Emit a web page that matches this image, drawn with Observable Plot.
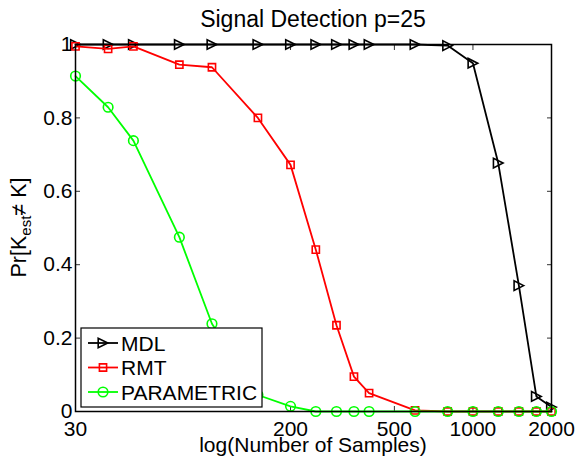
<!DOCTYPE html>
<html><head><meta charset="utf-8">
<script src="https://cdn.jsdelivr.net/npm/d3@7"></script>
<script src="https://cdn.jsdelivr.net/npm/@observablehq/plot@0.6"></script>
<style>
body{margin:0;background:#fff;}
#chart svg{font-family:"Liberation Sans",Arial,Helvetica,sans-serif;color:#000;background:#fff;}
</style>
</head><body><div id="chart"></div>
<script>
const samples = [30,40,50,75,100,150,200,250,300,350,400,600,800,1000,1250,1500,1750,2000];
const mdl = [1,1,1,1,1,1,1,1,1,1,1,1,0.997,0.949,0.677,0.343,0.041,0.012];
const rmt = [0.995,0.988,0.995,0.945,0.938,0.800,0.672,0.441,0.235,0.095,0.050,0.003,0,0,0,0,0,0];
const parametric = [0.914,0.829,0.738,0.475,0.239,0.045,0.014,0,0,0,0,0,0,0,0,0,0,0];
const xTicks = [30,200,500,1000,2000];
const yTicks = [0,0.2,0.4,0.6,0.8,1];
const seriesNames = ["MDL","RMT","PARAMETRIC"];
const colors = ["#000000","#ff0000","#00ff00"];
const titleText = "Signal Detection p=25";
const xLabel = "log(Number of Samples)";

const triRight = {draw(ctx,size){const r=Math.sqrt(size/Math.PI); ctx.moveTo(r,0); ctx.lineTo(-r,-r); ctx.lineTo(-r,r); ctx.closePath();}};
const sq = {draw(ctx,size){const r=Math.sqrt(size/Math.PI); ctx.rect(-r,-r,2*r,2*r);}};
const symbols = [triRight, sq, "circle"];
const radii = [4.8, 3.6, 4.8];
const values = [mdl, rmt, parametric];

const rows = seriesNames.map((name,i)=> samples.map((n,j)=>({series:name, n, p:values[i][j]})));

const W=575,H=460, mL=75, mR=24, mT=44, mB=49;
const FS = 21;
const marks = [];
seriesNames.forEach((name,i)=>{
  marks.push(Plot.line(rows[i],{x:"n",y:"p",stroke:colors[i],strokeWidth:1.8}));
  marks.push(Plot.dot(rows[i],{x:"n",y:"p",stroke:colors[i],strokeWidth:1.6,fill:"none",symbol:symbols[i],r:radii[i]}));
});
const yfmt = d => (d===0||d===1) ? String(d) : d.toFixed(1);
const plot = Plot.plot({
  width:W, height:H, marginLeft:mL, marginRight:mR, marginTop:mT, marginBottom:mB,
  style:{fontSize:FS+"px", fontFamily:"'Liberation Sans',Arial,sans-serif", color:"#000", background:"#fff"},
  x:{type:"log", domain:[30,2000]},
  y:{domain:[0,1]},
  marks:[
    Plot.axisX({ticks:xTicks, tickSize:0, tickPadding:10, tickFormat:d=>String(d), label:null}),
    Plot.axisX({ticks:xTicks, tickSize:-5, fill:"none", label:null, stroke:"#333"}),
    Plot.axisX({anchor:"top", ticks:xTicks, tickSize:-5, fill:"none", label:null, stroke:"#333"}),
    Plot.axisY({ticks:yTicks, tickSize:0, tickPadding:3, tickFormat:yfmt, label:null}),
    Plot.axisY({ticks:yTicks, tickSize:-5, fill:"none", label:null, stroke:"#333"}),
    Plot.axisY({anchor:"right", ticks:yTicks, tickSize:-5, fill:"none", label:null, stroke:"#333"}),
    ...marks,
    Plot.frame({stroke:"#000", strokeWidth:1.5})
  ]
});
document.getElementById("chart").appendChild(plot);

const svg = d3.select(plot);
const cx = mL + (W-mL-mR)/2, cy = mT + (H-mT-mB)/2;
svg.append("text").attr("x",cx).attr("y",27).attr("text-anchor","middle")
  .attr("font-size",23).attr("fill","#000").text(titleText);
svg.append("text").attr("x",cx).attr("y",452).attr("text-anchor","middle")
  .attr("font-size",FS).attr("fill","#000").text(xLabel);
const yl = svg.append("text").attr("transform",`translate(26,${cy}) rotate(-90)`)
  .attr("text-anchor","middle").attr("font-size",FS+0.5).attr("fill","#000");
yl.append("tspan").text("Pr[K");
yl.append("tspan").attr("font-size",15).attr("dy",5).text("est");
yl.append("tspan").attr("dy",-5).text("\u2260 K]");

// legend
const lg = svg.append("g").attr("text-anchor","start");
lg.append("rect").attr("x",81).attr("y",328).attr("width",181).attr("height",79)
  .attr("fill","#fff").attr("stroke","#000").attr("stroke-width",1.2);
const symPath = (s, r) => d3.symbol().type(typeof s === "string" ? d3.symbolCircle : s).size(Math.PI*r*r)();
seriesNames.forEach((name,i)=>{
  const y = 343 + i*24.5;
  lg.append("line").attr("x1",88).attr("x2",118).attr("y1",y).attr("y2",y)
    .attr("stroke",colors[i]).attr("stroke-width",1.8);
  lg.append("path").attr("d",symPath(symbols[i], radii[i])).attr("transform",`translate(103,${y})`)
    .attr("fill","none").attr("stroke",colors[i]).attr("stroke-width",1.6);
  lg.append("text").attr("x",121).attr("y",y+7.5).attr("text-anchor","start")
    .attr("font-size",FS).attr("fill","#000").text(name);
});
</script>
</body></html>
